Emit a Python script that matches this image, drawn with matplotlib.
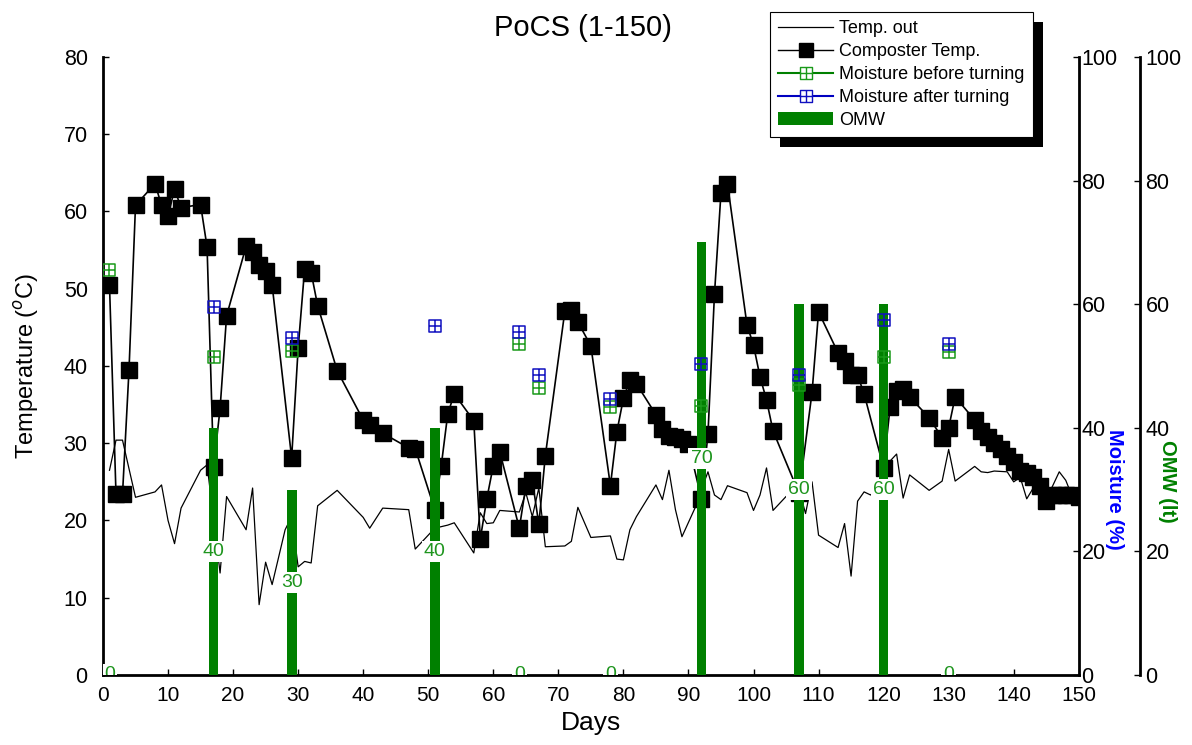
import numpy as np
import matplotlib
matplotlib.use('Agg')
import matplotlib.pyplot as plt
from matplotlib.path import Path
from matplotlib.lines import Line2D
from matplotlib.patches import Patch, Rectangle
from matplotlib.transforms import IdentityTransform

plt.rcParams['font.family'] = ['Liberation Sans', 'DejaVu Sans']

# outside temperature (C)
days_out = [1, 2, 3, 5, 8, 9, 10, 11, 12, 15, 16, 18, 19, 22, 23, 24, 25, 26, 28, 29,
            30, 31, 32, 33, 36, 40, 41, 43, 47, 48, 50, 51, 53, 54, 57, 58, 59, 60, 61, 64,
            65, 66, 67, 68, 71, 72, 73, 75, 78, 79, 80, 81, 82, 85, 86, 87, 88, 89, 91, 92,
            93, 94, 95, 96, 99, 100, 101, 102, 103, 105, 107, 108, 109, 110, 113, 114, 115, 116, 117, 118,
            120, 121, 122, 123, 124, 127, 129, 130, 131, 134, 135, 136, 137, 139, 140, 141, 142, 143, 144, 145,
            147, 148, 149, 150]
temp_out = [26.5, 30.4, 30.4, 23.0, 23.7, 24.6, 20.0, 17.0, 21.6, 26.5, 27.2, 13.2, 23.1, 18.8, 24.2, 9.1, 14.6, 11.7, 18.8, 20.5,
            14.0, 14.7, 14.5, 21.9, 23.9, 20.4, 19.0, 21.6, 21.4, 16.3, 18.1, 19.0, 19.4, 19.7, 15.8, 21.0, 19.6, 19.7, 21.3, 21.1,
            23.6, 20.5, 24.2, 16.6, 16.7, 17.3, 21.7, 17.8, 18.0, 15.0, 14.9, 18.8, 20.5, 24.6, 22.7, 26.5, 21.4, 17.9, 21.6, 24.0,
            26.3, 23.3, 22.7, 24.5, 23.6, 21.3, 23.3, 26.8, 21.3, 23.1, 24.0, 20.9, 25.0, 18.1, 16.5, 19.6, 12.8, 22.5, 23.7, 23.3,
            25.0, 27.7, 28.6, 22.9, 25.9, 23.9, 25.1, 29.2, 25.1, 27.0, 26.3, 26.2, 26.4, 26.3, 25.0, 25.6, 22.8, 24.2, 23.5, 22.7,
            26.3, 25.2, 23.1, 22.0]

# composter temperature (C)
days_comp = [1, 2, 3, 4, 5, 8, 9, 10, 11, 12, 15, 16, 17, 18, 19, 22, 23, 24, 25, 26,
             29, 30, 31, 32, 33, 36, 40, 41, 43, 47, 48, 51, 52, 53, 54, 57, 58, 59, 60, 61,
             64, 65, 66, 67, 68, 71, 72, 73, 75, 78, 79, 80, 81, 82, 85, 86, 87, 88, 89, 90,
             92, 93, 94, 95, 96, 99, 100, 101, 102, 103, 107, 109, 110, 113, 114, 115, 116, 117, 120, 121,
             122, 123, 124, 127, 129, 130, 131, 134, 135, 136, 137, 138, 139, 140, 141, 142, 143, 144, 145, 146,
             147, 148, 149, 150]
temp_comp = [50.5, 23.4, 23.4, 39.5, 60.8, 63.6, 60.8, 59.4, 62.9, 60.5, 60.9, 55.4, 26.9, 34.5, 46.5, 55.5, 54.7, 53.1, 52.3, 50.5,
             28.1, 42.3, 52.6, 52.1, 47.8, 39.4, 33.0, 32.4, 31.3, 29.4, 29.3, 21.4, 27.1, 33.8, 36.4, 32.9, 17.6, 22.8, 27.1, 28.9,
             19.0, 24.4, 25.2, 19.5, 28.4, 47.1, 47.3, 45.7, 42.6, 24.5, 31.5, 35.8, 38.2, 37.7, 33.7, 31.9, 30.9, 30.8, 30.5, 29.9,
             22.8, 31.2, 49.3, 62.4, 63.6, 45.3, 42.7, 38.6, 35.6, 31.6, 23.5, 36.6, 47.0, 41.7, 40.6, 38.8, 38.8, 36.4, 26.8, 34.7,
             36.8, 37.0, 36.0, 33.3, 30.7, 32.0, 36.0, 33.0, 31.6, 30.8, 30.0, 29.3, 28.4, 27.6, 26.4, 26.1, 25.6, 24.5, 22.5, 23.3,
             23.3, 23.3, 23.3, 23.0]

# moisture (%)
days_m_before = [1, 17, 29, 64, 67, 78, 92, 107, 120, 130]
moist_before = [65.5, 51.5, 52.5, 53.5, 46.5, 43.4, 43.5, 47.0, 51.5, 52.2]
days_m_after = [17, 29, 51, 64, 67, 78, 92, 107, 120, 130]
moist_after = [59.5, 54.5, 56.5, 55.5, 48.5, 44.7, 50.4, 48.5, 57.5, 53.5]

# OMW added (lt)
days_omw = [1, 17, 29, 51, 64, 78, 92, 107, 120, 130]
omw = [0, 40, 30, 40, 0, 0, 70, 60, 60, 0]

verts = [(-1, -1), (1, -1), (1, 1), (-1, 1), (-1, -1), (0, -1), (0, 1), (-1, 0), (1, 0)]
codes = [Path.MOVETO, Path.LINETO, Path.LINETO, Path.LINETO, Path.CLOSEPOLY,
         Path.MOVETO, Path.LINETO, Path.MOVETO, Path.LINETO]
boxplus = Path(verts, codes)

fig = plt.figure(figsize=(11.92, 7.45), dpi=100)
ax = fig.add_axes([0.0864, 0.094, 0.8186, 0.8295])
ax_omw = ax.twinx()
ax_m = ax.twinx()

ax.plot(days_out, temp_out, color='black', lw=0.9)
ax.plot(days_comp, temp_comp, color='black', lw=1.2, marker='s', ms=11)

ax_omw.bar(days_omw, omw, width=1.5, color='#008000')
for d, v in zip(days_omw, omw):
    ax_omw.text(d, v / 2, str(v), ha='center', va='center', fontsize=14, color='#1e951e',
                bbox=dict(facecolor='white', edgecolor='none', pad=1.5), clip_on=True, zorder=5)

ax_m.plot(days_m_before, moist_before, ls='none', marker=boxplus, ms=9, mfc='none',
          mec='#1a9a1a', mew=1.1)
ax_m.plot(days_m_after, moist_after, ls='none', marker=boxplus, ms=9, mfc='none',
          mec='#1010c0', mew=1.1)

ax.set_xlim(0, 150)
ax.set_ylim(0, 80)
ax_m.set_ylim(0, 100)
ax_omw.set_ylim(0, 100)
ax.set_xticks(np.arange(0, 151, 10))
ax.set_yticks(np.arange(0, 81, 10))
ax_m.set_yticks(np.arange(0, 101, 20))
ax_omw.set_yticks(np.arange(0, 101, 20))

for a in (ax, ax_m, ax_omw):
    a.spines['top'].set_visible(False)
    a.tick_params(labelsize=15.5, direction='in', length=4, width=1)
    a.patch.set_visible(False)
for s in ('left', 'bottom'):
    ax.spines[s].set_linewidth(2)
ax.spines['right'].set_visible(False)
ax_m.spines['right'].set_linewidth(2)
for s in ('left', 'bottom'):
    ax_m.spines[s].set_visible(False)
    ax_omw.spines[s].set_visible(False)
ax_omw.spines['right'].set_position(('outward', 44))
ax_omw.spines['right'].set_linewidth(2)
ax.tick_params(axis='x', labelsize=15, pad=8)
ax.tick_params(axis='y', pad=11)
ax_m.tick_params(axis='y', pad=2)
ax_omw.tick_params(axis='y', pad=4)

ax.set_xlabel('Days', fontsize=19, labelpad=4)
ax.set_ylabel('Temperature ($^{o}$C)', fontsize=17, labelpad=16)
ax.text(1.037, 0.30, 'Moisture (%)', transform=ax.transAxes, rotation=270, ha='center', va='center',
        fontsize=14.5, fontweight='bold', color='#0000ff')
ax.text(1.091, 0.314, 'OMW (lt)', transform=ax.transAxes, rotation=270, ha='center', va='center',
        fontsize=14.5, fontweight='bold', color='#008000')
fig.text(583 / 1192, 1 - 28 / 745, 'PoCS (1-150)', ha='center', va='center', fontsize=21)

handles = [
    Line2D([], [], color='black', lw=0.9),
    Line2D([], [], color='black', lw=1.0, marker='s', ms=10),
    Line2D([], [], color='#008000', lw=1.5, marker=boxplus, ms=8.5, mfc='white', mec='#1a9a1a', mew=1),
    Line2D([], [], color='#0000c0', lw=1.5, marker=boxplus, ms=8.5, mfc='white', mec='#1010c0', mew=1),
    Patch(facecolor='#008000'),
]
labels = ['Temp. out', 'Composter Temp.', 'Moisture before turning', 'Moisture after turning', 'OMW']
leg = fig.legend(handles, labels, loc='upper left', bbox_to_anchor=(770 / 1192, 1 - 12 / 745),
                 borderaxespad=0, fontsize=13, fancybox=False, handlelength=3.0, labelspacing=0.32,
                 handletextpad=0.35, borderpad=0.47, framealpha=1)
leg.get_frame().set_edgecolor('black')
leg.get_frame().set_linewidth(0.8)

fig.canvas.draw()
bb = leg.get_window_extent(fig.canvas.get_renderer())
fig.patches.append(Rectangle((bb.x0 + 10, bb.y0 - 10), bb.width, bb.height, facecolor='black',
                             edgecolor='none', transform=IdentityTransform(), zorder=4, figure=fig))

fig.savefig('out.png', dpi=100)
